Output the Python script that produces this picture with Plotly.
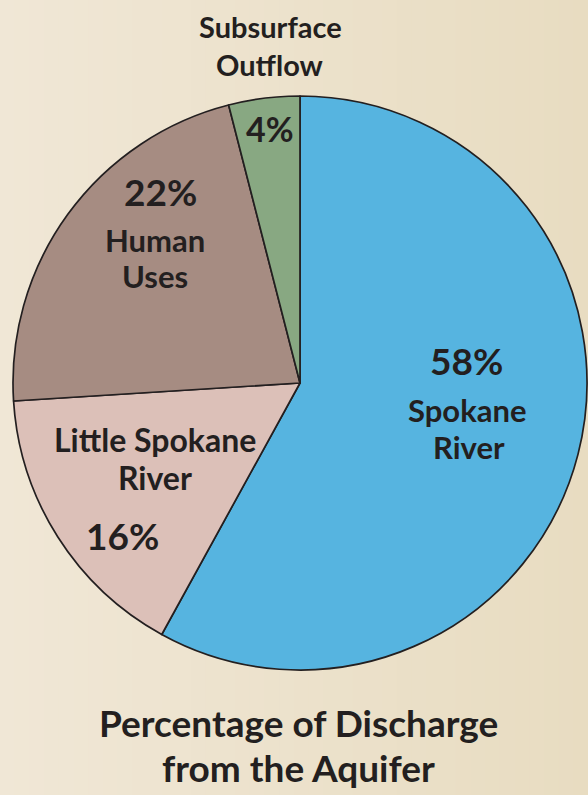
import plotly.graph_objects as go

categories = ["Spokane River", "Little Spokane River", "Human Uses", "Subsurface Outflow"]
values = [58, 16, 22, 4]
colors = ["#56B4E0", "#DCC0B8", "#A68C82", "#88A882"]
title_lines = ["Percentage of Discharge", "from the Aquifer"]

W, H = 588, 795
INK = "#231F20"
FONT = "Lato"

fig = go.Figure(go.Pie(
    labels=categories,
    values=values,
    sort=False,
    direction="clockwise",
    rotation=0,
    marker=dict(colors=colors, line=dict(color=INK, width=1.7)),
    textinfo="none",
    hoverinfo="label+percent",
    showlegend=False,
    domain=dict(x=[13 / W, 587 / W], y=[(H - 383 - 287) / H, (H - 383 + 287) / H]),
))

# background gradient (light left -> slightly darker right)
shapes = []
n = 40
c0 = (240, 231, 214)
c1 = (232, 220, 193)
for i in range(n):
    t = i / (n - 1)
    c = tuple(round(c0[k] + (c1[k] - c0[k]) * t) for k in range(3))
    shapes.append(dict(type="rect", xref="paper", yref="paper",
                       x0=i / n, x1=(i + 1) / n + 0.002, y0=0, y1=1,
                       fillcolor="rgb(%d,%d,%d)" % c, line=dict(width=0), layer="below"))

def ann(text, px, py, size):
    return dict(text=text, x=px / W, y=1 - py / H, xref="paper", yref="paper",
                showarrow=False, xanchor="center", yanchor="middle",
                font=dict(family=FONT, size=size, color=INK, weight="bold"))

pct = ["%d%%" % v for v in values]
annotations = [
    ann("Subsurface", 270, 27, 29),
    ann("Outflow", 270, 65, 29),
    ann(pct[3], 270, 129, 34),
    ann(pct[2], 160, 192, 37),
    ann("Human", 155, 240, 31),
    ann("Uses", 155, 276, 31),
    ann(pct[0], 466, 360, 37),
    ann("Spokane", 467, 410, 31),
    ann("River", 469, 447, 31),
    ann("Little Spokane", 155, 439, 32),
    ann("River", 155, 477, 32),
    ann(pct[1], 122, 535, 37),
    ann(title_lines[0], 298, 722, 37),
    ann(title_lines[1], 298, 767, 37),
]

fig.update_layout(
    width=W, height=H,
    margin=dict(l=0, r=0, t=0, b=0),
    paper_bgcolor="#ECE2CC",
    plot_bgcolor="#ECE2CC",
    shapes=shapes,
    annotations=annotations,
)

fig.write_html("out.html", config={"displayModeBar": False},
               post_script="document.body.style.margin='0';")
